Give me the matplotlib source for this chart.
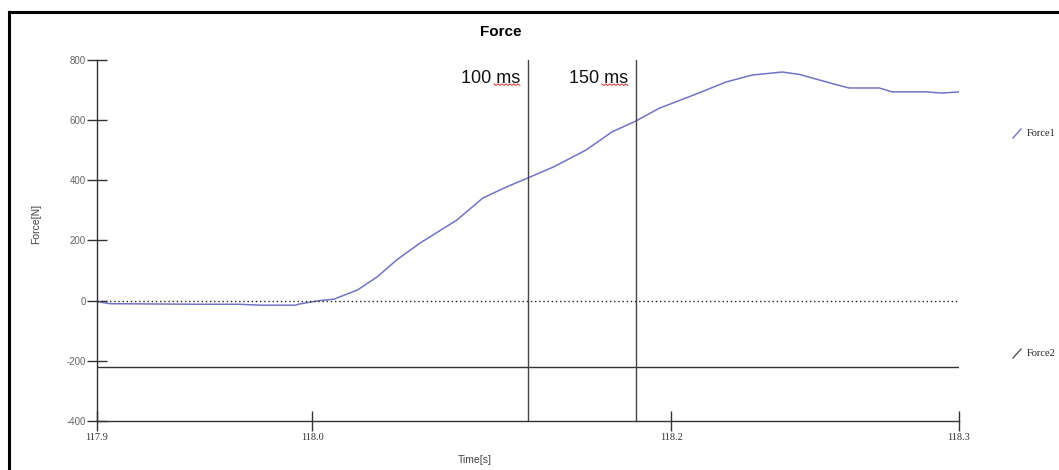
import numpy as np
import matplotlib.pyplot as plt
from matplotlib.lines import Line2D

plt.rcParams["axes.unicode_minus"] = False

# Force1 trace
time_s = [117.900, 117.906, 117.948, 117.966, 117.976, 117.992, 117.994, 118.003,
          118.010, 118.021, 118.030, 118.039, 118.050, 118.067, 118.079, 118.090,
          118.100, 118.112, 118.127, 118.139, 118.150, 118.161, 118.177, 118.192,
          118.204, 118.218, 118.226, 118.242, 118.249, 118.263, 118.269, 118.285,
          118.292, 118.300]
force1 = [-3, -10, -12, -12, -15, -15, -11, 0,
          5, 36, 79, 135, 192, 268, 341, 378,
          408, 445, 501, 561, 597, 640, 684, 727,
          750, 760, 752, 720, 707, 707, 694, 694,
          690, 694]
force2 = -220          # constant second channel
markers = [118.10, 118.15]
marker_labels = ["100 ms", "150 ms"]

y_ticks = [-400, -200, 0, 200, 400, 600, 800]
x_ticks = [117.9, 118.0, 118.1664, 118.3]   # where the labels sit in the picture
x_tick_labels = ["117.9", "118.0", "118.2", "118.3"]

fig = plt.figure(figsize=(10.59, 4.70), dpi=100)
ax = fig.add_axes([97/1059, 1-421/470, (959-97)/1059, (421-60)/470])

ax.plot(time_s, force1, color="#7272c6", lw=1.1)
ax.axhline(force2, color="#333333", lw=1.0)
ax.axhline(0, color="#222222", lw=1.0, ls=(0, (1, 2)))
for m, lab in zip(markers, marker_labels):
    ax.axvline(m, color="#444444", lw=1.0)
    xr = m - 8/2155
    ax.text(xr, 740, lab, ha="right", va="center", fontsize=13,
            family="Liberation Sans", color="#111111")
    # spell-check squiggle under "ms"
    xs = np.linspace(xr - 26/2155, xr, 14)
    ax.plot(xs, 718 + 2.5*np.array([(-1)**i for i in range(14)]), color="#e03030", lw=0.7, clip_on=False)

ax.set_xlim(117.9, 118.3)
ax.set_ylim(-400, 800)
ax.set_yticks(y_ticks)
ax.set_xticks(x_ticks)
ax.set_xticklabels(x_tick_labels)
for s in ["top", "right"]:
    ax.spines[s].set_visible(False)
for s in ["left", "bottom"]:
    ax.spines[s].set_color("#333333")
    ax.spines[s].set_linewidth(1.0)
ax.tick_params(axis="y", direction="inout", length=14, width=1, color="#333333",
               labelsize=7, labelcolor="#666666", pad=1)
ax.tick_params(axis="x", direction="inout", length=14, width=1, color="#333333",
               labelsize=7.5, labelcolor="#333333", pad=2)
for t in ax.get_xticklabels():
    t.set_family("Liberation Serif")
for t in ax.get_yticklabels():
    t.set_family("Liberation Sans")

fig.text(501/1059, 1-32/470, "Force", ha="center", va="center", fontsize=11,
         fontweight="bold", family="Liberation Sans")
fig.text(36/1059, 1-224/470, "Force[N]", rotation=90, ha="center", va="center",
         fontsize=7.5, family="Liberation Sans", color="#444444")
fig.text(475/1059, 1-460/470, "Time[s]", ha="center", va="center",
         fontsize=7.5, family="Liberation Sans", color="#444444")

# legend entries on the right
for py, lab, col in [(133, "Force1", "#7272c6"), (353, "Force2", "#555555")]:
    fig.add_artist(Line2D([1013/1059, 1021/1059], [1-(py+5)/470, 1-(py-4)/470],
                          color=col, lw=1.0))
    fig.text(1027/1059, 1-py/470, lab, ha="left", va="center", fontsize=7.5,
             family="Liberation Serif", color="#222222")

# outer frame (left and top edges)
fig.add_artist(Line2D([9/1059, 9/1059], [0, 1-12/470], color="black", lw=2.2))
fig.add_artist(Line2D([9/1059, 1], [1-12/470, 1-12/470], color="black", lw=2.2))

fig.savefig("out.png", dpi=100)
